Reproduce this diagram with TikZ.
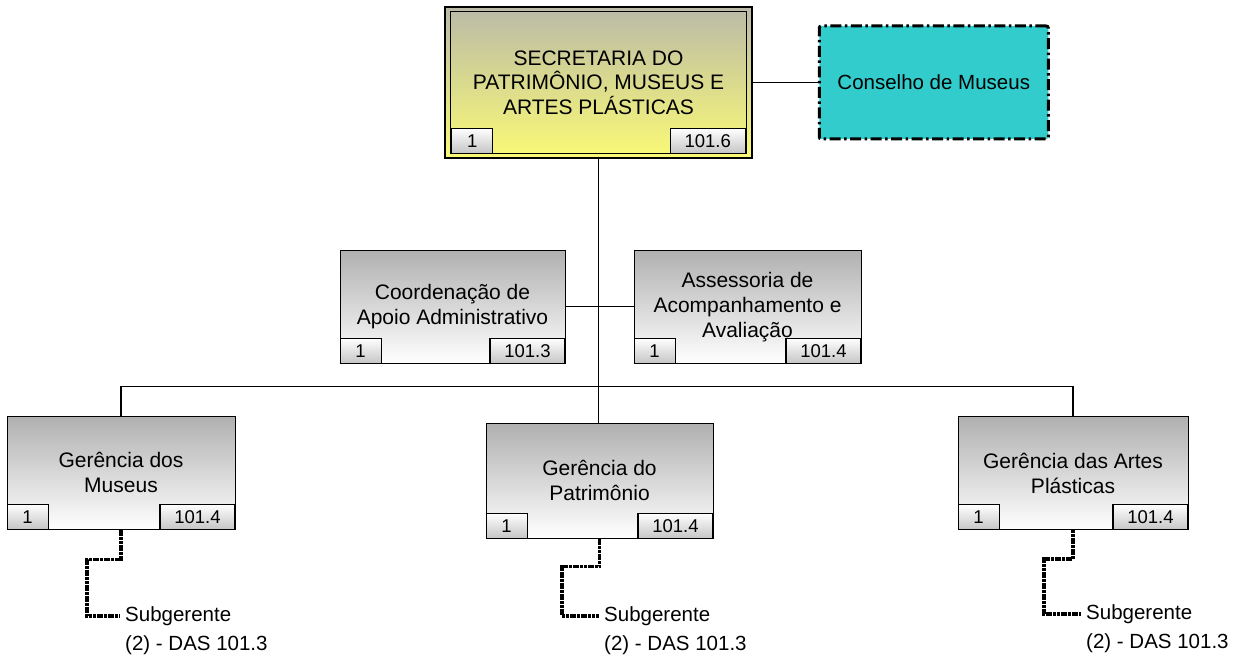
\documentclass[tikz,border=0pt]{standalone}
\usepackage{fontspec}
\setmainfont{Liberation Sans}
\usepackage{tikz}
\usetikzlibrary{positioning}

\definecolor{boxgray}{RGB}{176,176,176}
\definecolor{khaki}{RGB}{186,186,168}
\definecolor{paleyellow}{RGB}{250,250,118}
\definecolor{conscyan}{RGB}{51,204,204}

\begin{document}
\begin{tikzpicture}[x=1pt,y=1pt,
    unit/.style={draw,line width=1pt,align=center,minimum width=227pt,minimum height=113pt,
        top color=boxgray,bottom color=white,font=\fontsize{21}{25}\selectfont},
    tag/.style={draw,line width=1.2pt,minimum height=25pt,inner sep=0pt,
        top color=white,bottom color=gray!45,font=\fontsize{18.5}{20}\selectfont},
    link/.style={line width=1.5pt},
    subline/.style={line width=3.5pt,dash pattern=on 3pt off 0.7pt},
    subtext/.style={anchor=west,inner sep=5pt,font=\fontsize{20.5}{25}\selectfont}]

    \useasboundingbox (0,0) rectangle (1242,664);

    % top of the chart
    \node[draw,line width=1.5pt,align=center,minimum width=307pt,minimum height=151pt,
        top color=khaki,bottom color=paleyellow,font=\fontsize{21}{24.5}\selectfont]
        (sec) at (598.5,581.5) {SECRETARIA DO\\PATRIMÔNIO, MUSEUS E\\ARTES PLÁSTICAS};
    \draw[line width=1.2pt] ([shift={(6pt,5pt)}]sec.south west) rectangle ([shift={(-6pt,-5pt)}]sec.north east);
    \node[tag,minimum width=41pt,anchor=south west] (sec1) at ([shift={(7pt,5pt)}]sec.south west) {1};
    \node[tag,minimum width=75pt,anchor=south east] (sec2) at ([shift={(-7pt,5pt)}]sec.south east) {101.6};

    \node[draw,line width=3pt,dash pattern=on 11pt off 3.5pt on 2.5pt off 3.5pt,rounded corners=2pt,
        fill=conscyan,minimum width=229pt,minimum height=113pt,font=\fontsize{20.5}{25}\selectfont,
        right=65pt of sec] (con) {Conselho de Museus};

    % staff units
    \node[unit,minimum width=225pt,below=91pt of sec,xshift=-146pt] (coord) {Coordenação de\\Apoio Administrativo};
    \node[unit,right=68pt of coord] (asses) {Assessoria de\\Acompanhamento e\\Avaliação};

    % line units
    \node[unit,minimum height=115pt,below=264pt of sec,xshift=1pt] (gpat) {Gerência do\\Patrimônio};
    \node[unit,minimum width=228pt,left=250pt of gpat,yshift=8pt] (gmus) {Gerência dos\\Museus};
    \node[unit,minimum width=230pt,right=244pt of gpat,yshift=7.5pt] (gart) {Gerência das Artes\\Plásticas};

    \node[tag,minimum width=41pt,anchor=south west] (coord1) at (coord.south west) {1};
    \node[tag,minimum width=75pt,anchor=south east] (coord2) at (coord.south east) {101.3};
    \node[tag,minimum width=41pt,anchor=south west] (asses1) at (asses.south west) {1};
    \node[tag,minimum width=75pt,anchor=south east] (asses2) at (asses.south east) {101.4};
    \node[tag,minimum width=41pt,anchor=south west] (gmus1) at (gmus.south west) {1};
    \node[tag,minimum width=75pt,anchor=south east] (gmus2) at (gmus.south east) {101.4};
    \node[tag,minimum width=41pt,anchor=south west] (gpat1) at (gpat.south west) {1};
    \node[tag,minimum width=75pt,anchor=south east] (gpat2) at (gpat.south east) {101.4};
    \node[tag,minimum width=41pt,anchor=south west] (gart1) at (gart.south west) {1};
    \node[tag,minimum width=75pt,anchor=south east] (gart2) at (gart.south east) {101.4};

    % subgerentes
    \node[subtext] (sub1) at ([xshift=-1pt,yshift=-86pt]gmus.south) {Subgerente};
    \node[subtext] (das1) at ([yshift=-29pt]sub1.west) {(2) - DAS 101.3};
    \node[subtext] (sub2) at ([xshift=-0.5pt,yshift=-77pt]gpat.south) {Subgerente};
    \node[subtext] (das2) at ([yshift=-29pt]sub2.west) {(2) - DAS 101.3};
    \node[subtext] (sub3) at ([xshift=8pt,yshift=-84pt]gart.south) {Subgerente};
    \node[subtext] (das3) at ([yshift=-29pt]sub3.west) {(2) - DAS 101.3};

    % connectors
    \draw[link] (sec.east) -- (sec.east -| con.west);
    \draw[link] (sec.south) -- (sec.south |- gpat.north);
    \draw[link] (coord.east) -- (asses.west);
    \draw[link] (gmus.north) -- ++(0,29pt) -| (gart.north);

    \draw[subline] (gmus.south) -- ++(0,-30pt) -| ([xshift=-33pt]sub1.west) -- (sub1.west);
    \draw[subline] (gpat.south) -- ++(0,-28pt) -| ([xshift=-37pt]sub2.west) -- (sub2.west);
    \draw[subline] (gart.south) -- ++(0,-29pt) -| ([xshift=-37pt]sub3.west) -- (sub3.west);

\end{tikzpicture}
\end{document}
